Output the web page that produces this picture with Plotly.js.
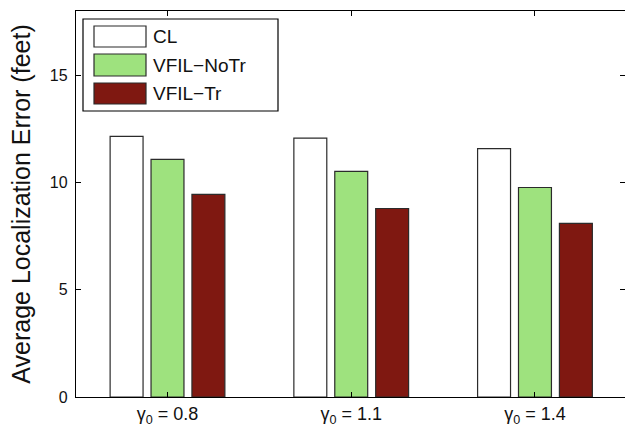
<!DOCTYPE html>
<html><head><meta charset="utf-8">
<script src="https://cdn.plot.ly/plotly-3.0.1.min.js"></script>
<style>html,body{margin:0;padding:0;background:#fff}</style>
</head><body><div id="chart" style="width:625px;height:429px"></div>
<script>
var categories = ['γ<sub>0</sub> = 0.8', 'γ<sub>0</sub> = 1.1', 'γ<sub>0</sub> = 1.4'];
var seriesNames = ['CL', 'VFIL−NoTr', 'VFIL−Tr'];
var clValues = [12.15, 12.07, 11.58];
var noTrValues = [11.08, 10.52, 9.77];
var trValues = [9.45, 8.79, 8.10];
var seriesColors = ['#ffffff', '#9ee27e', '#7f1811'];
var yTicks = [0, 5, 10, 15];

var allValues = [clValues, noTrValues, trValues];
var traces = allValues.map(function(v, i){
  return {type:'bar', x:categories, y:v, name:seriesNames[i],
    marker:{color:seriesColors[i], line:{color:'#2b2b2b', width:1.2}},
    showlegend:false, hoverinfo:'skip'};
});

// custom MATLAB-like legend (paper coordinates)
var W = 625, H = 429, L = 76, R = 0, T = 11, B = 32;
function px(x){ return (x - L) / (W - L - R); }
function py(y){ return 1 - (y - T) / (H - T - B); }
var shapes = [{type:'rect', xref:'paper', yref:'paper', x0:px(83), x1:px(278), y0:py(19), y1:py(111),
  line:{color:'#000', width:1.2}, fillcolor:'#fff', layer:'above'}];
var annotations = [];
var rows = [[26,47],[54,76],[83,104]];
seriesNames.forEach(function(n, i){
  shapes.push({type:'rect', xref:'paper', yref:'paper', x0:px(94), x1:px(146), y0:py(rows[i][0]), y1:py(rows[i][1]),
    line:{color:'#2b2b2b', width:1.2}, fillcolor:seriesColors[i], layer:'above'});
  annotations.push({xref:'paper', yref:'paper', x:px(151), y:py((rows[i][0]+rows[i][1])/2),
    xanchor:'left', yanchor:'middle', text:n, showarrow:false,
    font:{family:'Liberation Sans, Arial', size:19, color:'#111'}});
});

var layout = {
  width:W, height:H, margin:{l:L, r:R, t:T, b:B}, paper_bgcolor:'#fff', plot_bgcolor:'#fff',
  barmode:'group', bargap:0.332, bargroupgap:0.195,
  font:{family:'Liberation Sans, Arial', color:'#111'},
  xaxis:{type:'category', range:[-0.498, 2.49], showgrid:false, zeroline:false,
    showline:true, linecolor:'#000', linewidth:1.2, mirror:'ticks',
    ticks:'inside', ticklen:5, tickcolor:'#000', tickfont:{size:18}},
  yaxis:{range:[0, 18], tickvals:yTicks, ticktext:yTicks.map(String), showgrid:false, zeroline:false,
    showline:true, linecolor:'#000', linewidth:1.2, mirror:'ticks',
    ticks:'inside', ticklen:5, tickcolor:'#000', tickfont:{size:16}, ticklabelstandoff:4,
    title:{text:'Average Localization Error (feet)', font:{size:25}, standoff:12}},
  shapes:shapes, annotations:annotations
};
Plotly.newPlot('chart', traces, layout, {displayModeBar:false, staticPlot:true});
</script></body></html>
